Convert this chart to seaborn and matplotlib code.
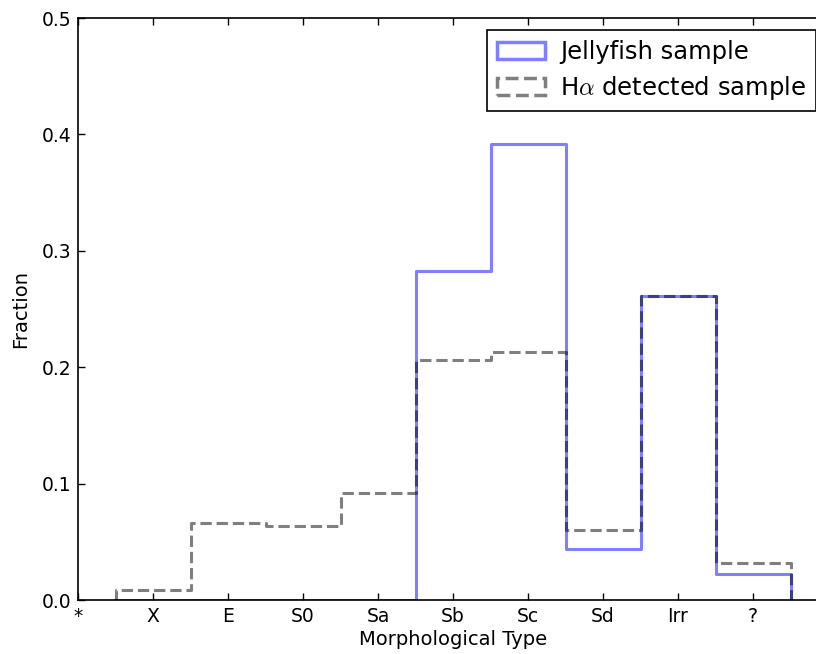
import numpy as np
import pandas as pd
import seaborn as sns
import matplotlib
matplotlib.use("Agg")
import matplotlib.pyplot as plt
from matplotlib.patches import Patch

# ---- data ----
tick_labels = ["*", "X", "E", "S0", "Sa", "Sb", "Sc", "Sd", "Irr", "?"]
categories = ["X", "E", "S0", "Sa", "Sb", "Sc", "Sd", "Irr", "?"]
jellyfish_frac = [0.0, 0.0, 0.0, 0.0, 0.283, 0.392, 0.044, 0.261, 0.022]
halpha_frac = [0.009, 0.066, 0.064, 0.092, 0.206, 0.213, 0.060, 0.261, 0.032]

positions = np.arange(1, len(categories) + 1)
df_j = pd.DataFrame({"pos": positions, "frac": jellyfish_frac})
df_h = pd.DataFrame({"pos": positions, "frac": halpha_frac})

# bin edges (tiny empty bins at both ends so the outline drops to zero)
edges = [0.499] + [0.5 + i for i in range(len(categories) + 1)] + [len(categories) + 0.501]

sns.set_style("ticks")
plt.rcParams["font.family"] = ["DejaVu Sans"]
plt.rcParams["mathtext.fontset"] = "cm"
plt.rcParams["text.color"] = "black"
plt.rcParams["axes.labelcolor"] = "black"
plt.rcParams["xtick.direction"] = "in"
plt.rcParams["ytick.direction"] = "in"
plt.rcParams["xtick.top"] = True
plt.rcParams["ytick.right"] = True

fig = plt.figure(figsize=(8.16, 6.54), dpi=100)
ax = fig.add_axes([78 / 816, 1 - 600 / 654, 750 / 816, 582 / 654])

sns.histplot(data=df_j, x="pos", weights="frac", bins=edges, element="step",
             fill=False, color="blue", alpha=0.5, linewidth=2.2, ax=ax)
sns.histplot(data=df_h, x="pos", weights="frac", bins=edges, element="step",
             fill=False, color="black", alpha=0.5, linewidth=2.2,
             linestyle="--", ax=ax)

ax.set_xlim(0, 10)
ax.set_ylim(0, 0.5)
ax.set_xticks(np.arange(len(tick_labels)))
ax.set_xticklabels(tick_labels)
ax.set_yticks([0.0, 0.1, 0.2, 0.3, 0.4, 0.5])
ax.set_yticklabels(["0.0", "0.1", "0.2", "0.3", "0.4", "0.5"])
ax.tick_params(labelsize=13.5, length=5, width=1, colors="black", pad=5)
ax.set_xlabel("Morphological Type", fontsize=14, labelpad=3)
ax.set_ylabel("Fraction", fontsize=14, labelpad=8)
for s in ax.spines.values():
    s.set_linewidth(1.2)
    s.set_color("black")

handles = [
    Patch(facecolor="none", edgecolor=(0, 0, 1, 0.5), linewidth=2.5, label="Jellyfish sample"),
    Patch(facecolor="none", edgecolor=(0, 0, 0, 0.5), linewidth=2.5, linestyle="--",
          label=r"H$\alpha$ detected sample"),
]
leg = ax.legend(handles=handles, loc="upper right", fontsize=17.5, frameon=True,
                fancybox=False, edgecolor="black", framealpha=1,
                borderaxespad=0.5, handletextpad=0.6, labelspacing=0.4)
leg.get_frame().set_linewidth(1.2)

fig.savefig("out.png", dpi=100)
